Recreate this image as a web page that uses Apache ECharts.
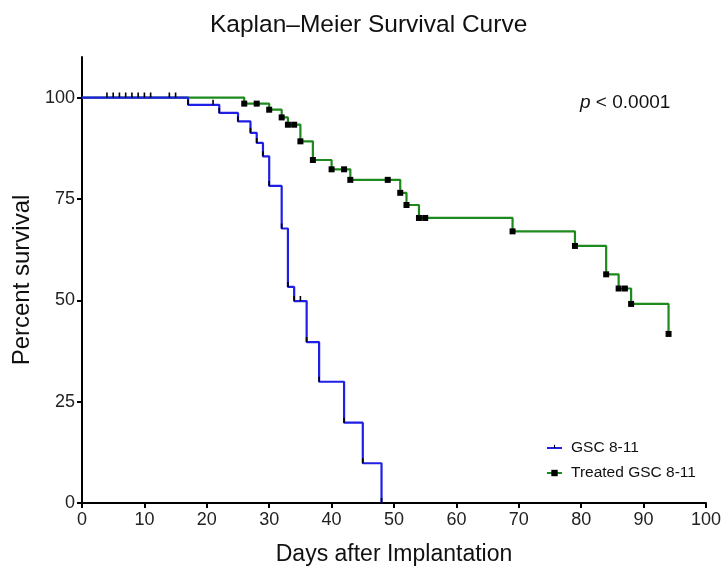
<!DOCTYPE html>
<html>
<head>
<meta charset="utf-8">
<script src="https://cdn.jsdelivr.net/npm/echarts@6/dist/echarts.min.js"></script>
<style>
  html, body { margin: 0; padding: 0; background: #fff; }
  #chart { width: 723px; height: 575px; }
</style>
</head>
<body>
<div id="chart"></div>
<script>
// GSC 8-11 (untreated) - days and percent survival, censored points repeat the level
const gscDays = [0, 4, 5, 6, 7, 8, 9, 10, 11, 14, 15, 17, 21, 22, 25, 27, 28, 29, 30, 32, 33, 34, 35, 36, 38, 42, 45, 48]
const gscSurv = [100, 100, 100, 100, 100, 100, 100, 100, 100, 100, 100, 98.2, 98.2, 96.2, 94.1, 91.3, 88.8, 85.5, 78.2, 67.7, 53.3, 49.8, 49.8, 39.7, 29.9, 19.8, 9.8, 0]

// Treated GSC 8-11
const treatedDays = [0, 26, 28, 30, 32, 33, 34, 35, 37, 40, 42, 43, 49, 51, 52, 54, 55, 69, 79, 84, 86, 87, 88, 94]
const treatedSurv = [100, 98.5, 98.5, 97.0, 95.1, 93.3, 93.3, 89.2, 84.6, 82.3, 82.3, 79.7, 79.7, 76.5, 73.5, 70.3, 70.3, 67.0, 63.4, 56.4, 52.9, 52.9, 49.1, 41.7]

const xTicks = [0, 10, 20, 30, 40, 50, 60, 70, 80, 90, 100]
const yTicks = [0, 25, 50, 75, 100]

const font = 'Liberation Sans'

// upright tick mark sitting on the line (bbox kept square by the corner points)
const tickSymbol = 'path://M0,0 L0.01,0 Z M4.2,0 L5.8,0 L5.8,5 L4.2,5 Z M10,10 L9.99,10 Z'

const toPoints = (days, surv) => days.map((d, i) => {
  // no marker on the starting point at day 0
  return i === 0 ? { value: [d, surv[i]], symbol: 'none' } : [d, surv[i]]
})

const chart = echarts.init(document.getElementById('chart'))

const option = {
  animation: false,
  backgroundColor: '#fff',
  title: {
    text: 'Kaplan–Meier Survival Curve',
    left: 205,
    top: 8,
    textStyle: { fontFamily: font, fontSize: 24.5, fontWeight: 'normal', color: '#111' }
  },
  legend: {
    orient: 'vertical',
    left: 541,
    top: 435,
    itemWidth: 15,
    itemHeight: 8,
    itemGap: 9,
    data: ['GSC 8-11', 'Treated GSC 8-11'],
    textStyle: { fontFamily: font, fontSize: 15.5, color: '#111', lineHeight: 14, padding: [0, 0, 0, 4] }
  },
  grid: { left: 82, right: 17, top: 57, bottom: 72, outerBoundsMode: 'none' },
  xAxis: {
    type: 'value',
    min: 0,
    max: 100,
    interval: 10,
    name: 'Days after Implantation',
    nameLocation: 'middle',
    nameGap: 40,
    nameTextStyle: { fontFamily: font, fontSize: 23, color: '#111' },
    axisLine: { lineStyle: { color: '#000', width: 2 } },
    axisTick: { length: 5, customValues: xTicks, lineStyle: { color: '#000', width: 2 } },
    axisLabel: { fontFamily: font, fontSize: 18, color: '#222', margin: 8, customValues: xTicks },
    splitLine: { show: false }
  },
  yAxis: {
    type: 'value',
    min: 0,
    max: 110,
    name: 'Percent survival',
    nameLocation: 'middle',
    nameGap: 41,
    nameTextStyle: { fontFamily: font, fontSize: 24, color: '#111' },
    axisLine: { show: true, lineStyle: { color: '#000', width: 2 } },
    axisTick: { show: true, length: 5, customValues: yTicks, lineStyle: { color: '#000', width: 2 } },
    axisLabel: { fontFamily: font, fontSize: 18, color: '#222', margin: 7, customValues: yTicks },
    splitLine: { show: false }
  },
  graphic: [{
    type: 'text',
    left: 580,
    top: 93,
    style: {
      text: '{i|p} < 0.0001',
      font: '19px ' + font,
      fill: '#111',
      rich: { i: { fontStyle: 'italic', fontFamily: font, fontSize: 19, fill: '#111' } }
    }
  }],
  series: [
    {
      name: 'Treated GSC 8-11',
      type: 'line',
      step: 'end',
      data: toPoints(treatedDays, treatedSurv),
      symbol: 'rect',
      symbolSize: 6,
      showAllSymbol: true,
      itemStyle: { color: '#000' },
      lineStyle: { color: '#1d8a1d', width: 2.2 },
      z: 2
    },
    {
      name: 'GSC 8-11',
      type: 'line',
      step: 'end',
      data: toPoints(gscDays, gscSurv),
      symbol: tickSymbol,
      symbolSize: 10,
      showAllSymbol: true,
      itemStyle: { color: '#000' },
      lineStyle: { color: '#1f1fe6', width: 2.2 },
      z: 3
    }
  ]
}
chart.setOption(option)
</script>
</body>
</html>
